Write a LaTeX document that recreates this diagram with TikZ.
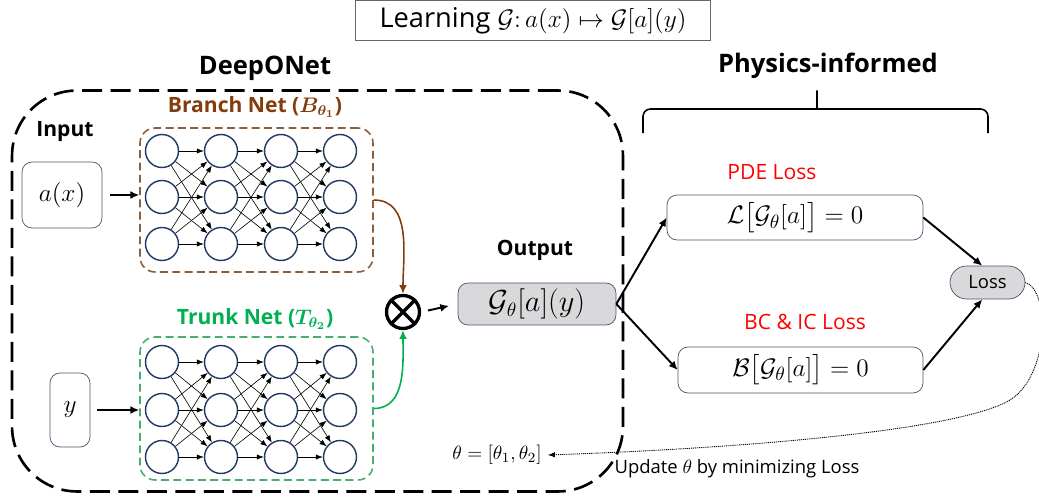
\documentclass[tikz,border=0pt]{standalone}
\usepackage{amsmath,bm}
\usepackage[no-math]{fontspec}
\setmainfont{Open Sans}
\usetikzlibrary{positioning, arrows.meta, fit, backgrounds}

\definecolor{boxline}{RGB}{68,84,106}
\definecolor{neuronc}{RGB}{31,56,100}
\definecolor{brownlab}{RGB}{132,60,12}
\definecolor{brownfr}{RGB}{140,95,60}
\definecolor{greenlab}{RGB}{0,176,80}
\definecolor{greenfr}{RGB}{70,175,110}
\definecolor{lossred}{RGB}{255,0,0}
\definecolor{boxfill}{RGB}{217,217,220}

\begin{document}
\begin{tikzpicture}[x=0.02cm, y=-0.02cm, >={Latex[length=5pt,width=4.5pt]}]

\tikzset{
  inbox/.style={
    rectangle, rounded corners=2mm,
    draw=boxline, thin, align=center,
    inner sep=0pt, font=\fontsize{15}{18}\selectfont
  },
  neuron/.style={circle, draw=neuronc, line width=0.8pt, minimum size=0.66cm, inner sep=0pt},
  conn/.style={-{Latex[length=4pt,width=3pt]}, line width=0.35pt},
  arrow/.style={->, line width=1.1pt},
  netframe/.style={rectangle, rounded corners=3mm, line width=0.9pt, dash pattern=on 4.5pt off 2.5pt},
  deepframe/.style={rectangle, draw, rounded corners=1.3cm, line width=1.5pt, dash pattern=on 0.4cm off 0.17cm},
  head/.style={font=\fontsize{14.5}{17}\selectfont\bfseries},
  subhead/.style={font=\fontsize{12}{15}\selectfont\bfseries},
  losslab/.style={text=lossred, font=\fontsize{12}{14}\selectfont},
  update/.style={-{Latex[length=4pt,width=3pt]}, line width=0.5pt, dash pattern=on 0.6pt off 0.5pt}
}

\useasboundingbox (0,0) rectangle (1039,497);

% =========================================================
% Title and headings
% =========================================================
\node[draw=black!60, thin, minimum width=7.1cm, minimum height=0.8cm, inner sep=1pt,
      font=\fontsize{15.5}{18}\selectfont] (title) at (533,20.5)
  {Learning $\mathcal{G}{:}\,a(x)\mapsto\mathcal{G}[a](y)$};
\node[head] (deeponet) at (265,68) {DeepONet};
\node[head] (physics) at (828,66) {Physics-informed};

\draw[line width=0.9pt, rounded corners=1.5mm]
  (643,133) -- (643,109) -- (811,109)
  .. controls (816,109) and (817,104) .. (817,86)
  .. controls (817,104) and (818,109) .. (823,109)
  -- (988,109) -- (988,133);

% =========================================================
% DeepONet frame + inputs
% =========================================================
\node[deepframe, minimum width=12.22cm, minimum height=8.02cm] (frame) at (317.5,291) {};

\node[subhead] (input) at (65,132) {Input};
\node[inbox, minimum width=1.6cm, minimum height=1.32cm] (ax) at (62,195) {$a(x)$};
\node[inbox, minimum width=0.8cm, minimum height=1.48cm] (yin) at (70,410) {$y$};

% =========================================================
% Branch net and trunk net
% =========================================================
\node[netframe, draw=brownfr, minimum width=4.66cm, minimum height=2.88cm] (branch) at (256.5,200) {};
\node[netframe, draw=greenfr, minimum width=4.66cm, minimum height=2.86cm] (trunk) at (256.5,408.5) {};

\node[subhead, text=brownlab] (brname) at (255,107) {Branch Net ($\bm{B_{\theta_1}}$)};
\node[subhead, text=greenlab] (trname) at (255,319) {Trunk Net ($\bm{T_{\theta_2}}$)};

\foreach \c/\x in {1/162,2/221,3/281,4/340}
  \foreach \r/\ya/\yb in {1/151/362,2/197/410,3/244/457} {
    \node[neuron] (b-\c-\r) at (\x,\ya) {};
    \node[neuron] (t-\c-\r) at (\x,\yb) {};
  }

\foreach \c [evaluate=\c as \n using int(\c+1)] in {1,2,3}
  \foreach \i in {1,2,3}
    \foreach \j in {1,2,3} {
      \draw[conn] (b-\c-\i) -- (b-\n-\j);
      \draw[conn] (t-\c-\i) -- (t-\n-\j);
    }

\draw[arrow] (ax.east) ++(8,0) coordinate (axs) -- (axs -| branch.west);
\draw[arrow] (yin.east) ++(7,0) coordinate (ys) -- (ys -| trunk.west);

% =========================================================
% Product and output
% =========================================================
\node[circle, draw, line width=1.9pt, minimum size=0.66cm, inner sep=0pt] (mult) at (403,312) {};
\draw[line width=1.9pt] (mult.45) -- (mult.225) (mult.135) -- (mult.315);

\draw[->, brownlab, line width=0.9pt] (branch.east) to[out=0, in=90] (mult.north);
\draw[->, greenlab, line width=0.9pt] (trunk.east) to[out=0, in=-90] (mult.south);

\node[subhead] (outlab) at (535,250) {Output};
\node[inbox, fill=boxfill, minimum width=3.16cm, minimum height=0.84cm, font=\fontsize{16}{19}\selectfont]
  (out) at (537,304) {$\mathcal{G}_\theta[a](y)$};
\draw[arrow, shorten <=4pt, shorten >=5pt] (mult.east) -- (out.west);

% =========================================================
% Physics-informed losses
% =========================================================
\node[inbox, minimum width=5.12cm, minimum height=0.9cm] (pde) at (795,217.5)
  {$\mathcal{L}\big[\mathcal{G}_\theta[a]\big]=0$};
\node[inbox, minimum width=4.9cm, minimum height=0.92cm] (bc) at (800.5,370)
  {$\mathcal{B}\big[\mathcal{G}_\theta[a]\big]=0$};
\node[losslab, inner sep=1pt] (pdename) at (772,172) {PDE Loss};
\node[losslab, inner sep=1pt] (bcname) at (805,322) {BC \& IC Loss};

\node[rectangle, rounded corners=3.3mm, draw=boxline, fill=boxfill, minimum width=1.5cm,
      minimum height=0.66cm, font=\fontsize{10.5}{12}\selectfont] (loss) at (987.5,282.5) {Loss};

\draw[arrow] (out.east) -- (pde.west);
\draw[arrow] (out.east) -- (bc.west);
\draw[arrow] (pde.east) -- ([xshift=-3pt]loss.north);
\draw[arrow] (bc.east) -- ([xshift=-3pt]loss.south);

% =========================================================
% Parameter update
% =========================================================
\node[font=\fontsize{11}{13}\selectfont] (theta) at (497,455) {$\theta=[\theta_1,\theta_2]$};
\node[font=\fontsize{10.5}{13}\selectfont, inner sep=1pt] (updlab) at (737,469) {Update $\theta$ by minimizing Loss};

\coordinate (turn) at (1010,400);
\draw[update] (loss.east) .. controls (1050,290) and (1050,375) .. (turn)
  .. controls (960,430) and (750,448) .. (theta.east);

\end{tikzpicture}
\end{document}
